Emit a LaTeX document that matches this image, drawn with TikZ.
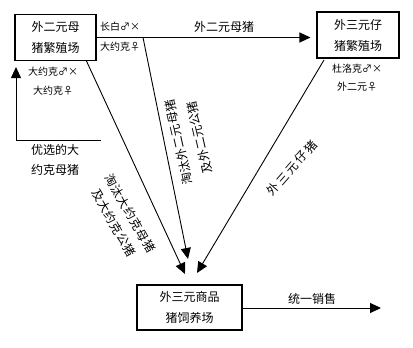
\documentclass[tikz,border=0pt]{standalone}
\usepackage{fontspec}
\setmainfont{Noto Sans CJK SC}
\usetikzlibrary{arrows.meta}
\begin{document}
\begin{tikzpicture}[x=1pt,y=-1pt,
  box/.style={draw, line width=1.1pt, inner sep=0pt, align=center, font=\fontsize{12}{21}\selectfont},
  lbl/.style={inner sep=0pt, anchor=west, font=\fontsize{10}{18}\selectfont},
  txt/.style={inner sep=0pt, align=center, font=\fontsize{12}{20}\selectfont},
  conn/.style={line width=0.9pt, -{Triangle[length=11pt,width=10pt]}},
]
\useasboundingbox (0,0) rectangle (413,348);
% boxes
\node[box, minimum width=81pt, minimum height=46pt] (lb) at (55.5,37.5) {外二元母\\猪繁殖场};
\node[box, minimum width=82pt, minimum height=46pt] (rb) at (358,35) {外三元仔\\猪繁殖场};
\node[box, minimum width=105pt, minimum height=45pt] (bb) at (189.5,307.5) {外三元商品\\猪饲养场};
% coordinates
\coordinate (s1) at (86,60);
\coordinate (t1) at (185,274);
\coordinate (s2) at (143,37.5);
\coordinate (t2) at (188,259);
\coordinate (s3) at (324,60);
\coordinate (t3) at (197,273);
\coordinate (corner) at (16,140);
\coordinate (cend) at (101,140);
\coordinate (out) at (381,308);
% connectors
\draw[conn, line width=1.2pt, shorten >=6pt] (lb.east) -- (lb.east -| rb.west);
\draw[conn, shorten >=6pt] (cend) -- (corner) -- (corner |- lb.south);
\draw[conn] (s1) -- (t1);
\draw[conn] (s2) -- (t2);
\draw[conn] (s3) -- (t3);
\draw[conn] (bb.east |- out) -- (out);
% labels
\node[txt] (l_top) at (224,27) {外二元母猪};
\node[txt] (l_sell) at (312,299) {统一销售};
\node[txt] (l_sel) at (55,160) {优选的大\\约克母猪};
\node[lbl] (l_lw1) at (100,27) {长白♂×};
\node[lbl] (l_lw2) at (100,47) {大约克♀};
\node[lbl] (l_yk1) at (28,72) {大约克♂×};
\node[lbl] (l_yk2) at (33,91) {大约克♀};
\node[lbl] (l_dl1) at (332,69) {杜洛克♂×};
\node[lbl] (l_dl2) at (337,87) {外二元♀};
\node[txt, rotate=-60, font=\fontsize{12}{19}\selectfont\addfontfeature{LetterSpace=5}] (l_d1) at (122,218) {淘汰大约克母猪\\及大约克公猪};
\node[txt, rotate=103, font=\fontsize{12}{21}\selectfont\addfontfeature{LetterSpace=4}] (l_d2) at (189,140) {淘汰外二元母猪\\及外二元公猪};
\node[txt, rotate=49, font=\fontsize{12}{20}\selectfont\addfontfeature{LetterSpace=18}] (l_d3) at (292,168) {外三元仔猪};
\end{tikzpicture}
\end{document}
